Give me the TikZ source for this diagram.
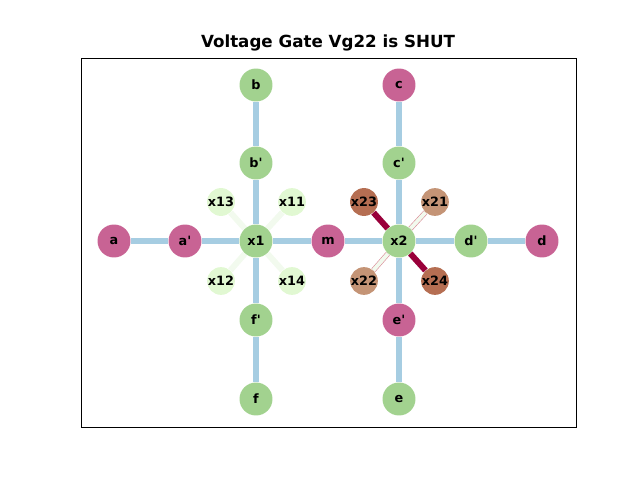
\documentclass[tikz,border=0pt]{standalone}
\usepackage{fontspec}
\setmainfont{DejaVu Sans}
\usetikzlibrary{positioning}
\definecolor{GateGreen}{HTML}{A2D28F}
\definecolor{GateMagenta}{HTML}{C86394}
\definecolor{GatePale}{HTML}{E1F8D2}
\definecolor{GateBrown}{HTML}{B56E52}
\definecolor{GateTan}{HTML}{C49476}
\definecolor{PipeBlue}{HTML}{A6CDE2}
\definecolor{PipeFaint}{HTML}{F2FAEE}
\definecolor{ShutRed}{HTML}{99003A}
\definecolor{OpenRim}{HTML}{D98A96}
\pgfdeclarelayer{pipes}
\pgfsetlayers{pipes,main}
\newcommand{\pr}{\textquotesingle}

\begin{document}
\begin{tikzpicture}[
        x=0.02cm, y=-0.02cm,
        font=\bfseries\fontsize{7.3}{8}\selectfont,
        junction/.style={
          circle,
          inner sep=0pt,
          minimum size=0.66cm
        },
        valve/.style={
          circle,
          inner sep=0pt,
          minimum size=0.44cm
        },
        pipe/.style={line width=3.4pt, draw=PipeBlue},
        faint/.style={line width=3.4pt, draw=PipeFaint},
        shut/.style={line width=3.4pt, draw=ShutRed},
        open/.style={line width=0.35pt, draw=OpenRim, double=PipeFaint, double distance=2.2pt}
      ]
        \useasboundingbox (0,0) rectangle (640,480);
        \node[font=\bfseries\fontsize{9.5}{11}\selectfont] (title) at (328,43) {Voltage Gate Vg22 is SHUT};

        % outer ring
        \node[junction, fill=GateMagenta] (a) at (114,241) {a};
        \node[junction, fill=GateMagenta] (ap) at (185,241) {a\pr};
        \node[junction, fill=GateGreen] (x1) at (256,241) {x1};
        \node[junction, fill=GateMagenta] (m) at (328,241) {m};
        \node[junction, fill=GateGreen] (x2) at (399,241) {x2};
        \node[junction, fill=GateGreen] (dp) at (471,241) {d\pr};
        \node[junction, fill=GateMagenta] (d) at (542,241) {d};
        \node[junction, fill=GateGreen] (b) at (256,85) {b};
        \node[junction, fill=GateGreen] (bp) at (256,163) {b\pr};
        \node[junction, fill=GateGreen] (fp) at (256,320) {f\pr};
        \node[junction, fill=GateGreen] (f) at (256,399) {f};
        \node[junction, fill=GateMagenta] (c) at (399,85) {c};
        \node[junction, fill=GateGreen] (cp) at (399,163) {c\pr};
        \node[junction, fill=GateMagenta] (ep) at (399,320) {e\pr};
        \node[junction, fill=GateGreen] (e) at (399,399) {e};

        % gate valves
        \node[valve, fill=GatePale] (x13) at (221,202) {x13};
        \node[valve, fill=GatePale] (x11) at (292,202) {x11};
        \node[valve, fill=GatePale] (x12) at (221,281) {x12};
        \node[valve, fill=GatePale] (x14) at (292,281) {x14};
        \node[valve, fill=GateBrown] (x23) at (364,202) {x23};
        \node[valve, fill=GateTan] (x21) at (435,202) {x21};
        \node[valve, fill=GateTan] (x22) at (364,281) {x22};
        \node[valve, fill=GateBrown] (x24) at (435,281) {x24};

        \begin{pgfonlayer}{pipes}
        \draw[pipe] (a) -- (ap);
        \draw[pipe] (ap) -- (x1);
        \draw[pipe] (x1) -- (m);
        \draw[pipe] (m) -- (x2);
        \draw[pipe] (x2) -- (dp);
        \draw[pipe] (dp) -- (d);
        \draw[pipe] (b) -- (bp);
        \draw[pipe] (bp) -- (x1);
        \draw[pipe] (x1) -- (fp);
        \draw[pipe] (fp) -- (f);
        \draw[pipe] (c) -- (cp);
        \draw[pipe] (cp) -- (x2);
        \draw[pipe] (x2) -- (ep);
        \draw[pipe] (ep) -- (e);

        \draw[faint] (x1) -- (x11);
        \draw[faint] (x1) -- (x12);
        \draw[faint] (x1) -- (x13);
        \draw[faint] (x1) -- (x14);
        \draw[shut] (x2) -- (x23);
        \draw[shut] (x2) -- (x24);
        \draw[open] (x2) -- (x21);
        \draw[open] (x2) -- (x22);
        \end{pgfonlayer}

        \draw[line width=0.55pt] (81,58) rectangle (576,427);
      \end{tikzpicture}
\end{document}
